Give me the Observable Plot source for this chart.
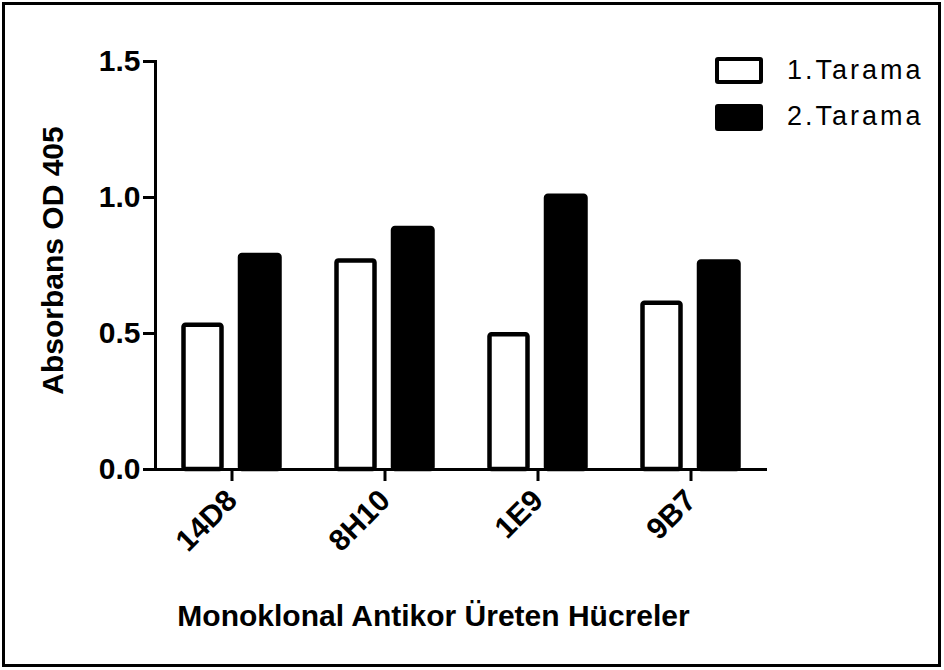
<!DOCTYPE html>
<html>
<head>
<meta charset="utf-8">
<script src="https://cdn.jsdelivr.net/npm/d3@7"></script>
<script src="https://cdn.jsdelivr.net/npm/@observablehq/plot@0.6"></script>
<style>
  html, body { margin: 0; padding: 0; background: white; }
  #wrap { position: relative; width: 944px; height: 670px; overflow: hidden; }
  #border { position: absolute; left: 2px; top: 2px; width: 939px; height: 665px; border: 3px solid black; box-sizing: border-box; pointer-events: none; }
  .sw { position: absolute; left: 715px; width: 48px; height: 27px; box-sizing: border-box; border: 4.5px solid black; border-radius: 3px; }
  .lt { position: absolute; left: 787px; font-family: "Liberation Sans", Arial, sans-serif; font-size: 27px; line-height: 28px; letter-spacing: 3px; color: black; white-space: nowrap; }
</style>
</head>
<body>
<div id="wrap"></div>
<script>
const groups = ["14D8", "8H10", "1E9", "9B7"];
const series = ["1.Tarama", "2.Tarama"];
const tarama1 = [0.53, 0.767, 0.495, 0.611];
const tarama2 = [0.787, 0.886, 1.005, 0.763];
const yTicks = [0, 0.5, 1.0, 1.5];
const xTitle = "Monoklonal Antikor Üreten Hücreler";
const yTitle = "Absorbans OD 405";

const rows1 = groups.map((g, i) => ({group: g, series: series[0], value: tarama1[i]}));
const rows2 = groups.map((g, i) => ({group: g, series: series[1], value: tarama2[i]}));

const chart = Plot.plot({
  width: 944,
  height: 670,
  marginLeft: 155,
  marginRight: 177,
  marginTop: 61,
  marginBottom: 201,
  style: {fontFamily: "'Liberation Sans', Arial, sans-serif", fontWeight: "bold", fontSize: "30px", color: "black", background: "white"},
  x: {domain: groups, padding: 0},
  y: {domain: [0, 1.5]},
  color: {domain: series, range: ["white", "black"]},
  marks: [
    Plot.barY(rows1, {x: "group", y: "value", fill: "series", stroke: "black", strokeWidth: 4.5, insetLeft: 28.5, insetRight: 86.5, rx: 2}),
    Plot.barY(rows2, {x: "group", y: "value", fill: "series", stroke: "black", strokeWidth: 4.5, insetLeft: 85, insetRight: 28.5, rx: 2}),
    Plot.ruleY([0], {strokeWidth: 3}),
    Plot.frame({anchor: "left", strokeWidth: 3}),
    Plot.axisY({ticks: yTicks, tickFormat: d => d.toFixed(1), tickSize: 12, tickPadding: 3, strokeWidth: 3, label: null, fontSize: 30}),
    Plot.axisX({tickSize: 12, tickRotate: -45, tickPadding: 14, strokeWidth: 3, label: null, fontSize: 30}),
    Plot.text([yTitle], {text: d => d, frameAnchor: "left", textAnchor: "middle", rotate: -90, dx: -102, dy: -5, fontSize: 30, fontWeight: "bold"}),
    Plot.text([xTitle], {text: d => d, frameAnchor: "bottom", textAnchor: "middle", dx: -28, dy: 156, fontSize: 30, fontWeight: "bold"})
  ]
});

const wrap = document.getElementById("wrap");
wrap.appendChild(chart);

series.forEach((s, i) => {
  const sw = document.createElement("div");
  sw.className = "sw";
  sw.style.top = (i === 0 ? 57 : 103.5) + "px";
  sw.style.background = i === 0 ? "white" : "black";
  wrap.appendChild(sw);
  const t = document.createElement("div");
  t.className = "lt";
  t.style.top = (i === 0 ? 55.6 : 102.3) + "px";
  t.textContent = s;
  wrap.appendChild(t);
});

const b = document.createElement("div");
b.id = "border";
wrap.appendChild(b);
</script>
</body>
</html>
